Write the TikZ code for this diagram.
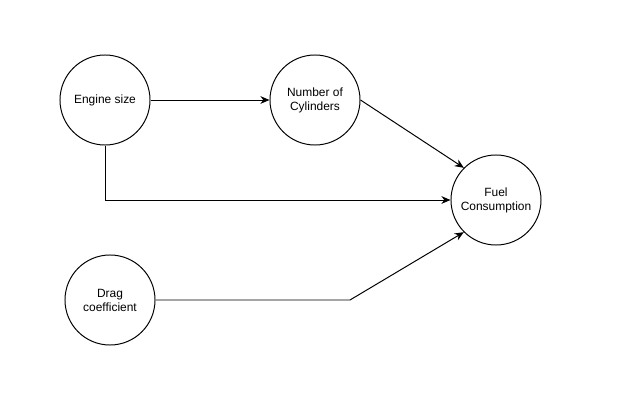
\documentclass[tikz,border=0pt]{standalone}
\usepackage{fontspec}
\setmainfont{Liberation Sans}
\usepackage{tikz}
\usetikzlibrary{arrows.meta}

\begin{document}
\begin{tikzpicture}[x=0.025cm, y=-0.025cm, line width=0.7pt, >={Stealth[length=6.5pt,width=5.5pt]}]
				
				\useasboundingbox (0,0) rectangle (620,400);
				
				\tikzstyle{every node}=[circle, draw, minimum size=2.25cm, inner sep=1pt, align=center, font=\fontsize{8.5}{10}\selectfont]
				
				\node (es) at (105,100) {Engine size};
				\node (nc) at (315,100) {Number of\\Cylinders};
				\node (fc) at (496,200) {Fuel\\Consumption};
				\node (dc) at (110,300) {Drag\\coefficient};
				
				\coordinate (bend) at (350,300);
				
				\draw[->] (es) -- (nc);
				\draw[->] (nc.east) -- (fc.north west);
				\draw[->] (es.south) |- (fc.west);
				\draw[->] (dc.east) -- (bend) -- (fc.south west);
				
			\end{tikzpicture}
\end{document}
